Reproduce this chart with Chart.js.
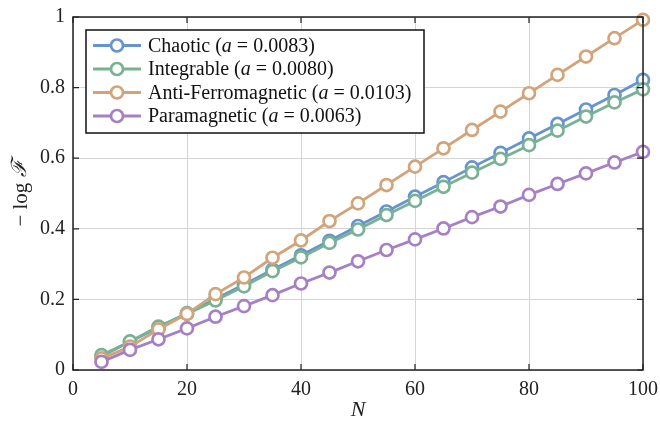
<!DOCTYPE html>
<html lang="en">
  <head>
    <meta charset="UTF-8" />
    <title>Fidelity decay vs N</title>
    <script src="https://cdn.jsdelivr.net/npm/chart.js"></script>
    <style>
      html, body { margin: 0; padding: 0; background: #fff; }
      #wrap { width: 660px; height: 426px; }
    </style>
  </head>
  <body>
    <div id="wrap"><canvas id="fidChart" width="660" height="426"></canvas></div>
    <script>
      // system sizes
      const sizes = [5, 10, 15, 20, 25, 30, 35, 40, 45, 50, 55, 60, 65, 70, 75, 80, 85, 90, 95, 100];

      // -log F for each model
      const chaotic = [0.040, 0.080, 0.121, 0.161, 0.201, 0.242, 0.284, 0.325, 0.366, 0.408, 0.449, 0.491, 0.532, 0.574, 0.615, 0.656, 0.697, 0.738, 0.779, 0.822];
      const integrable = [0.042, 0.081, 0.123, 0.159, 0.197, 0.237, 0.280, 0.319, 0.360, 0.398, 0.439, 0.479, 0.519, 0.559, 0.598, 0.637, 0.678, 0.718, 0.758, 0.795];
      const antiFerro = [0.033, 0.066, 0.115, 0.159, 0.215, 0.262, 0.318, 0.367, 0.422, 0.472, 0.524, 0.576, 0.628, 0.680, 0.732, 0.784, 0.836, 0.888, 0.940, 0.992];
      const paramag = [0.023, 0.057, 0.087, 0.118, 0.151, 0.181, 0.212, 0.245, 0.276, 0.308, 0.340, 0.370, 0.401, 0.433, 0.463, 0.496, 0.527, 0.557, 0.588, 0.618];

      const names = ["Chaotic", "Integrable", "Anti-Ferromagnetic", "Paramagnetic"];
      const slopes = ["0.0083", "0.0080", "0.0103", "0.0063"];
      const colors = ["#6694cf", "#79b292", "#d3a37a", "#a680c4"];

      const xTicks = [0, 20, 40, 60, 80, 100];
      const yTicks = [0, 0.2, 0.4, 0.6, 0.8, 1];

      const SERIF = "'Liberation Serif', 'DejaVu Serif', serif";

      function toPoints(vals) {
        return vals.map((v, i) => ({ x: sizes[i], y: v }));
      }

      const series = [chaotic, integrable, antiFerro, paramag];
      const datasets = series.map((vals, i) => ({
        label: names[i],
        data: toPoints(vals),
        borderColor: colors[i],
        backgroundColor: "#fff",
        borderWidth: 2.8,
        pointRadius: 6,
        pointBorderWidth: 2.7,
        pointBackgroundColor: "#fff",
        pointBorderColor: colors[i],
        tension: 0,
        clip: false,
        order: series.length - i,
      }));

      // frame, inward ticks, axis titles and the legend box
      const decorations = {
        id: "decorations",
        afterDraw(chart) {
          const { ctx, chartArea: a, scales } = chart;
          const sx = scales.x, sy = scales.y;
          ctx.save();

          ctx.strokeStyle = "#222";
          ctx.lineWidth = 1.5;
          ctx.strokeRect(a.left, a.top, a.right - a.left, a.bottom - a.top);

          const tl = 6;
          ctx.lineWidth = 1.2;
          ctx.beginPath();
          xTicks.forEach((t) => {
            const px = sx.getPixelForValue(t);
            ctx.moveTo(px, a.bottom); ctx.lineTo(px, a.bottom - tl);
            ctx.moveTo(px, a.top); ctx.lineTo(px, a.top + tl);
          });
          yTicks.forEach((t) => {
            const py = sy.getPixelForValue(t);
            ctx.moveTo(a.left, py); ctx.lineTo(a.left + tl, py);
            ctx.moveTo(a.right, py); ctx.lineTo(a.right - tl, py);
          });
          ctx.stroke();

          // x title
          ctx.fillStyle = "#222";
          ctx.textAlign = "center";
          ctx.textBaseline = "middle";
          ctx.font = "italic 22px " + SERIF;
          ctx.fillText("N", (a.left + a.right) / 2, 410);

          // y title, rotated
          ctx.save();
          ctx.translate(21, (a.top + a.bottom) / 2);
          ctx.rotate(-Math.PI / 2);
          ctx.textAlign = "left";
          const partsY = [
            { t: "\u2212 log ", f: "21px " + SERIF },
            { t: "\u2131", f: "italic 21px 'DejaVu Serif', serif" },
          ];
          let w = 0;
          partsY.forEach((p) => { ctx.font = p.f; w += ctx.measureText(p.t).width; });
          let cx = -w / 2;
          partsY.forEach((p) => { ctx.font = p.f; ctx.fillText(p.t, cx, 0); cx += ctx.measureText(p.t).width; });
          ctx.restore();

          // legend
          const box = { l: 86, t: 30, r: 424, b: 133 };
          ctx.fillStyle = "#fff";
          ctx.fillRect(box.l, box.t, box.r - box.l, box.b - box.t);
          ctx.strokeStyle = "#111";
          ctx.lineWidth = 1.5;
          ctx.strokeRect(box.l, box.t, box.r - box.l, box.b - box.t);

          const rowY = [45.5, 69, 92.5, 116];
          names.forEach((name, i) => {
            const y = rowY[i];
            ctx.strokeStyle = colors[i];
            ctx.lineWidth = 2.8;
            ctx.beginPath();
            ctx.moveTo(93, y); ctx.lineTo(141, y);
            ctx.stroke();
            ctx.beginPath();
            ctx.arc(117, y, 6, 0, Math.PI * 2);
            ctx.fillStyle = "#fff";
            ctx.fill();
            ctx.lineWidth = 2.7;
            ctx.stroke();

            const parts = [
              { t: name + " (", f: "20px " + SERIF },
              { t: "a", f: "italic 20px " + SERIF },
              { t: " = " + slopes[i] + ")", f: "20px " + SERIF },
            ];
            let x = 148;
            ctx.fillStyle = "#111";
            ctx.textAlign = "left";
            ctx.textBaseline = "middle";
            parts.forEach((p) => { ctx.font = p.f; ctx.fillText(p.t, x, y + 1); x += ctx.measureText(p.t).width; });
          });

          ctx.restore();
        },
      };

      new Chart(document.getElementById("fidChart"), {
        type: "line",
        data: { datasets },
        options: {
          responsive: false,
          animation: false,
          layout: { padding: { left: 0, right: 17, top: 17, bottom: 0 } },
          plugins: { legend: { display: false }, tooltip: { enabled: false } },
          scales: {
            x: {
              type: "linear",
              min: 0,
              max: 100,
              afterBuildTicks: (s) => { s.ticks = xTicks.map((v) => ({ value: v })); },
              afterFit: (s) => { s.height = 56; s.paddingLeft = 0; s.paddingRight = 0; },
              grid: { color: "#d4d4d4", lineWidth: 1, drawTicks: false },
              border: { display: false },
              ticks: { color: "#222", padding: 8, font: { family: SERIF, size: 20 }, maxRotation: 0, callback: (v) => String(v) },
            },
            y: {
              type: "linear",
              min: 0,
              max: 1,
              afterBuildTicks: (s) => { s.ticks = yTicks.map((v) => ({ value: v })); },
              afterFit: (s) => { s.width = 73; s.paddingTop = 0; s.paddingBottom = 0; },
              grid: { color: "#d4d4d4", lineWidth: 1, drawTicks: false },
              border: { display: false },
              ticks: { color: "#222", padding: 8, font: { family: SERIF, size: 20 }, callback: (v) => String(v) },
            },
          },
        },
        plugins: [decorations],
      });
    </script>
  </body>
</html>
